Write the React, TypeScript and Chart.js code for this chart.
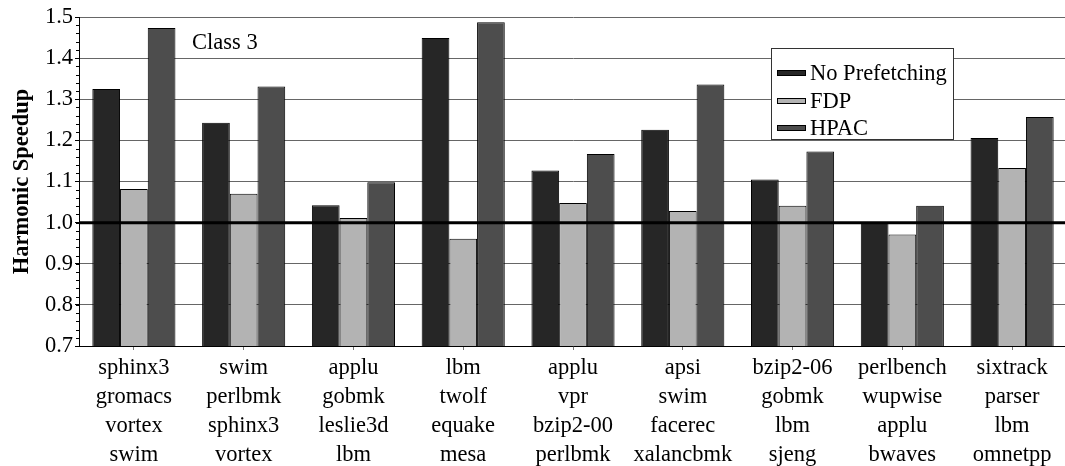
import { useEffect, useRef } from "react";
import { Chart, registerables } from "chart.js";

Chart.register(...registerables);

// Benchmark mixes (four programs per workload)
const categories: string[][] = [
  ["sphinx3", "gromacs", "vortex", "swim"],
  ["swim", "perlbmk", "sphinx3", "vortex"],
  ["applu", "gobmk", "leslie3d", "lbm"],
  ["lbm", "twolf", "equake", "mesa"],
  ["applu", "vpr", "bzip2-00", "perlbmk"],
  ["apsi", "swim", "facerec", "xalancbmk"],
  ["bzip2-06", "gobmk", "lbm", "sjeng"],
  ["perlbench", "wupwise", "applu", "bwaves"],
  ["sixtrack", "parser", "lbm", "omnetpp"],
];

const noPrefetching = [1.325, 1.243, 1.042, 1.449, 1.127, 1.226, 1.105, 0.999, 1.206];
const fdp = [1.082, 1.07, 1.011, 0.961, 1.048, 1.028, 1.041, 0.971, 1.133];
const hpac = [1.473, 1.331, 1.098, 1.487, 1.167, 1.336, 1.173, 1.041, 1.257];

const seriesNames = ["No Prefetching", "FDP", "HPAC"];
const seriesColors = ["#262626", "#b3b3b3", "#4d4d4d"];

const yMin = 0.7;
const yMax = 1.5;
const yStep = 0.1;
const yMinorStep = 0.02;
const baselineValue = 1.0;
const annotation = "Class 3";

const FONT = "'Liberation Serif', 'Times New Roman', Times, serif";

const overlayPlugin = {
  id: "overlay",
  afterDatasetsDraw(chart: any) {
    const { ctx, chartArea, scales } = chart;
    const y = scales.y;
    // baseline at speedup 1.0, drawn above the bars
    const by = y.getPixelForValue(baselineValue);
    ctx.save();
    ctx.strokeStyle = "#000";
    ctx.lineWidth = 3;
    ctx.beginPath();
    ctx.moveTo(chartArea.left, by);
    ctx.lineTo(chartArea.right, by);
    ctx.stroke();

    // minor tick marks on the value axis
    ctx.lineWidth = 1;
    ctx.strokeStyle = "#000";
    const n = Math.round((yMax - yMin) / yMinorStep);
    for (let i = 0; i <= n; i++) {
      const v = yMin + i * yMinorStep;
      const py = Math.round(y.getPixelForValue(v)) + 0.5;
      ctx.beginPath();
      ctx.moveTo(chartArea.left - 3, py);
      ctx.lineTo(chartArea.left, py);
      ctx.stroke();
    }
    ctx.restore();
  },
  afterDraw(chart: any) {
    const { ctx } = chart;
    ctx.save();
    // annotation text
    ctx.fillStyle = "#000";
    ctx.font = `22.5px ${FONT}`;
    ctx.textBaseline = "middle";
    ctx.textAlign = "left";
    ctx.fillText(annotation, 192, 43);

    // legend box
    const bx = 771.5;
    const byTop = 48.5;
    const bw = 182;
    const bh = 91;
    ctx.fillStyle = "#fff";
    ctx.fillRect(bx, byTop, bw, bh);
    ctx.strokeStyle = "#333";
    ctx.lineWidth = 1;
    ctx.strokeRect(bx, byTop, bw, bh);
    const rows = [73, 101, 128];
    seriesNames.forEach((name, i) => {
      const ry = rows[i];
      ctx.fillStyle = seriesColors[i];
      ctx.fillRect(777.5, ry - 2.5, 28, 5);
      ctx.strokeStyle = "#000";
      ctx.strokeRect(777.5, ry - 2.5, 28, 5);
      ctx.fillStyle = "#000";
      ctx.font = `22.5px ${FONT}`;
      ctx.textBaseline = "middle";
      ctx.fillText(name, 810, ry + 1);
    });
    ctx.restore();
  },
};

export default function App() {
  const canvasRef = useRef<HTMLCanvasElement | null>(null);

  useEffect(() => {
    if (!canvasRef.current) return;
    const data = [noPrefetching, fdp, hpac];
    const chart = new Chart(canvasRef.current, {
      type: "bar",
      data: {
        labels: categories,
        datasets: data.map((values, i) => ({
          label: seriesNames[i],
          data: values,
          backgroundColor: seriesColors[i],
          borderColor: "#000",
          borderWidth: 1,
          borderSkipped: false,
          categoryPercentage: 0.757,
          barPercentage: 1.0,
        })),
      },
      options: {
        animation: false,
        responsive: false,
        maintainAspectRatio: false,
        layout: { padding: { top: 17, left: 0, right: 0, bottom: 0 } },
        plugins: {
          legend: { display: false },
          tooltip: { enabled: false },
        },
        scales: {
          x: {
            type: "category",
            offset: true,
            grid: {
              offset: false,
              drawOnChartArea: false,
              drawTicks: true,
              tickLength: 4,
              tickColor: "#777",
            },
            border: { color: "#000", width: 1 },
            ticks: {
              color: "#000",
              padding: 3,
              maxRotation: 0,
              autoSkip: false,
              font: { family: FONT, size: 22.5, lineHeight: 1.3 },
            },
            afterFit(scale: any) {
              scale.height = 120;
            },
          },
          y: {
            min: yMin,
            max: yMax,
            grid: {
              color: "#666",
              lineWidth: 1,
              tickLength: 4,
              tickColor: "#000",
            },
            border: { color: "#000", width: 1 },
            ticks: {
              stepSize: yStep,
              color: "#000",
              padding: 2,
              font: { family: FONT, size: 22.5 },
              callback: (v: any) => Number(v).toFixed(1),
            },
            title: {
              display: true,
              text: "Harmonic Speedup",
              color: "#000",
              padding: { top: 9, bottom: 0 },
              font: { family: FONT, size: 22.5, weight: "bold" },
            },
            afterFit(scale: any) {
              scale.width = 79;
            },
          },
        },
      },
      plugins: [overlayPlugin],
    });
    if ((document as any).fonts && (document as any).fonts.ready) {
      (document as any).fonts.ready.then(() => chart.update());
    }
    return () => chart.destroy();
  }, []);

  return (
    <div
      style={{
        position: "absolute",
        left: 0,
        top: 0,
        width: 1065,
        height: 466,
        overflow: "hidden",
        background: "#fff",
      }}
    >
      <canvas
        ref={canvasRef}
        width={1067}
        height={466}
        style={{ display: "block", width: 1067, height: 466 }}
      />
    </div>
  );
}
